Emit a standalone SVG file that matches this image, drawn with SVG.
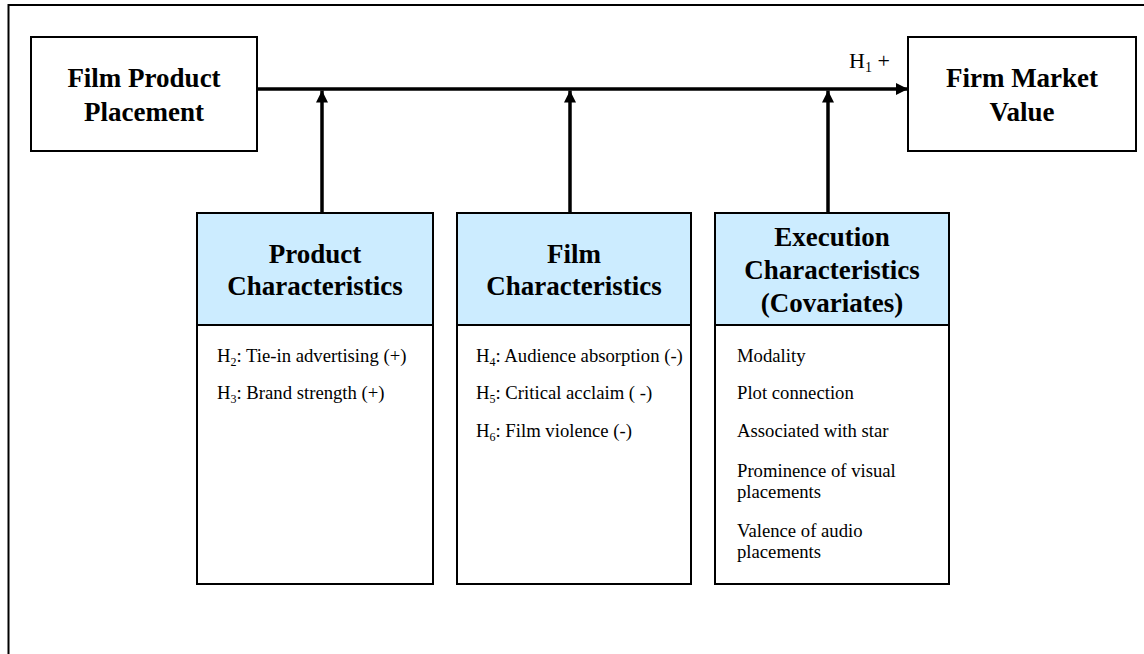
<svg xmlns="http://www.w3.org/2000/svg" width="1144" height="654" viewBox="0 0 1144 654">
<defs>
<style>
.frame{fill:none;stroke:#000;stroke-width:2}
.box{fill:#fff;stroke:#000;stroke-width:2}
.head{fill:#CCECFF;stroke:#000;stroke-width:2}
.conn{stroke:#000;stroke-width:3.5;fill:none}
.tb{font-family:"Liberation Serif","Times New Roman",serif;font-weight:bold;font-size:27px;fill:#000;text-anchor:middle}
.tr{font-family:"Liberation Serif","Times New Roman",serif;font-size:18.7px;fill:#000}
.lbl{font-family:"Liberation Serif","Times New Roman",serif;font-size:22px;fill:#000}
.sub{font-size:12px}
.sub1{font-size:14px}
</style>
<marker id="ah" markerUnits="userSpaceOnUse" markerWidth="12" markerHeight="12" refX="12" refY="6" orient="auto">
<path d="M0,0 L12,6 L0,12 z" fill="#000"/>
</marker>
</defs>
<rect width="1144" height="654" fill="#fff"/>
<rect class="frame" x="8.5" y="5" width="1200" height="700"/>

<g id="connectors">
<line class="conn" x1="257" y1="89" x2="908" y2="89" marker-end="url(#ah)"/>
<line class="conn" x1="322" y1="213" x2="322" y2="90.5" marker-end="url(#ah)"/>
<line class="conn" x1="570" y1="213" x2="570" y2="90.5" marker-end="url(#ah)"/>
<line class="conn" x1="828" y1="213" x2="828" y2="90.5" marker-end="url(#ah)"/>
<text class="lbl" x="849" y="68">H<tspan class="sub1" dy="4">1</tspan><tspan dy="-4"> +</tspan></text>
</g>

<g id="film-product-placement">
<rect class="box" x="31" y="37" width="226" height="114"/>
<text class="tb" x="144" y="87">Film Product</text>
<text class="tb" x="144" y="121">Placement</text>
</g>

<g id="firm-market-value">
<rect class="box" x="908" y="37" width="228" height="114"/>
<text class="tb" x="1022" y="87">Firm Market</text>
<text class="tb" x="1022" y="121">Value</text>
</g>

<g id="product-characteristics">
<rect class="box" x="197" y="325" width="236" height="259"/>
<rect class="head" x="197" y="213" width="236" height="112"/>
<text class="tb" x="315" y="263">Product</text>
<text class="tb" x="315" y="295">Characteristics</text>
<text class="tr" x="217" y="362">H<tspan class="sub" dy="4">2</tspan><tspan dy="-4">: Tie-in advertising (+)</tspan></text>
<text class="tr" x="217" y="399">H<tspan class="sub" dy="4">3</tspan><tspan dy="-4">: Brand strength (+)</tspan></text>
</g>

<g id="film-characteristics">
<rect class="box" x="457" y="325" width="234" height="259"/>
<rect class="head" x="457" y="213" width="234" height="112"/>
<text class="tb" x="574" y="263">Film</text>
<text class="tb" x="574" y="295">Characteristics</text>
<text class="tr" x="476" y="362">H<tspan class="sub" dy="4">4</tspan><tspan dy="-4">: Audience absorption (-)</tspan></text>
<text class="tr" x="476" y="399">H<tspan class="sub" dy="4">5</tspan><tspan dy="-4">: Critical acclaim ( -)</tspan></text>
<text class="tr" x="476" y="437">H<tspan class="sub" dy="4">6</tspan><tspan dy="-4">: Film violence (-)</tspan></text>
</g>

<g id="execution-characteristics">
<rect class="box" x="715" y="325" width="234" height="259"/>
<rect class="head" x="715" y="213" width="234" height="112"/>
<text class="tb" x="832" y="246">Execution</text>
<text class="tb" x="832" y="279">Characteristics</text>
<text class="tb" x="832" y="312">(Covariates)</text>
<text class="tr" x="737" y="362">Modality</text>
<text class="tr" x="737" y="399">Plot connection</text>
<text class="tr" x="737" y="437">Associated with star</text>
<text class="tr" x="737" y="477">Prominence of visual</text>
<text class="tr" x="737" y="498">placements</text>
<text class="tr" x="737" y="537">Valence of audio</text>
<text class="tr" x="737" y="558">placements</text>
</g>
</svg>
